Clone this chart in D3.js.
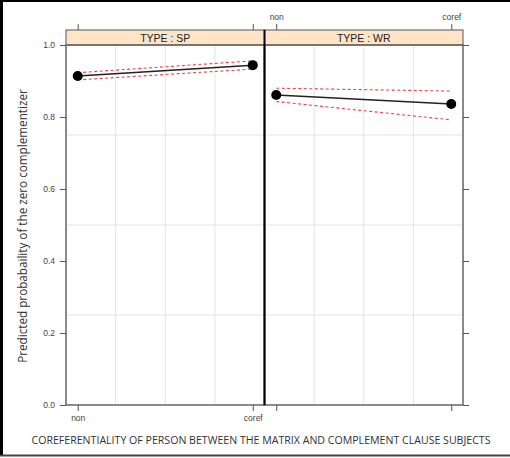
<!DOCTYPE html>
<html>
<head>
<meta charset="utf-8">
<script src="https://cdn.jsdelivr.net/npm/d3@7"></script>
<style>
  html, body { margin: 0; padding: 0; background: #fff; }
  svg { display: block; }
</style>
</head>
<body>
<svg id="chart" width="510" height="458"></svg>
<script>
// Effect plot: predicted probability of the zero complementizer
const panels = ["SP", "WR"];
const categories = ["non", "coref"];
const fitSP = [0.914, 0.944];
const lowerSP = [0.903, 0.933];
const upperSP = [0.923, 0.956];
const fitWR = [0.861, 0.836];
const lowerWR = [0.843, 0.792];
const upperWR = [0.880, 0.872];
const yTicks = [0.0, 0.2, 0.4, 0.6, 0.8, 1.0];
const yGrid = [0.25, 0.5, 0.75];

const series = {
  SP: { fit: fitSP, lower: lowerSP, upper: upperSP },
  WR: { fit: fitWR, lower: lowerWR, upper: upperWR }
};

const svg = d3.select("#chart");
const W = 510, H = 458;

// outer frame
svg.append("line").attr("x1", 1.5).attr("x2", 1.5).attr("y1", 0).attr("y2", 456)
  .attr("stroke", "#000").attr("stroke-width", 3);
svg.append("line").attr("x1", 0).attr("x2", W).attr("y1", 1).attr("y2", 1)
  .attr("stroke", "#000").attr("stroke-width", 2);
svg.append("line").attr("x1", 0).attr("x2", W).attr("y1", 455.5).attr("y2", 455.5)
  .attr("stroke", "#444").attr("stroke-width", 2);

const panelX0 = 66, panelW = 198.5, plotTop = 45, plotBottom = 405;
const stripTop = 30;

const y = d3.scaleLinear().domain([0, 1]).range([plotBottom, plotTop]);

const tickFont = "Liberation Sans, Arial, sans-serif";
const tickSize = 8.5;

panels.forEach((p, i) => {
  const x0 = panelX0 + i * panelW;
  const x = d3.scalePoint().domain(categories).range([x0, x0 + panelW]).padding(0.067);
  const g = svg.append("g");

  // grid
  const xq = d3.scaleLinear().domain([0, 4]).range([x0, x0 + panelW]);
  [1, 2, 3].forEach(k => {
    g.append("line").attr("x1", xq(k)).attr("x2", xq(k)).attr("y1", plotTop).attr("y2", plotBottom)
      .attr("stroke", "#e3e3e3").attr("stroke-width", 1);
  });
  yGrid.forEach(v => {
    g.append("line").attr("x1", x0).attr("x2", x0 + panelW).attr("y1", y(v)).attr("y2", y(v))
      .attr("stroke", "#e3e3e3").attr("stroke-width", 1);
  });

  // strip
  g.append("rect").attr("x", x0).attr("y", stripTop).attr("width", panelW).attr("height", plotTop - stripTop)
    .attr("fill", "#ffe4c8").attr("stroke", "#555").attr("stroke-width", 1);
  g.append("text").attr("x", x0 + panelW / 2).attr("y", plotTop - 3.5)
    .attr("text-anchor", "middle").attr("font-family", tickFont).attr("font-size", 10.5)
    .attr("fill", "#222").text("TYPE : " + p);

  // data
  const s = series[p];
  const line = d3.line().x((d, j) => x(categories[j])).y(d => y(d));
  ["lower", "upper"].forEach(k => {
    g.append("path").datum(s[k]).attr("d", line).attr("fill", "none")
      .attr("stroke", "#e8434a").attr("stroke-width", 1.1).attr("stroke-dasharray", "3,2.5");
  });
  g.append("path").datum(s.fit).attr("d", line).attr("fill", "none")
    .attr("stroke", "#222").attr("stroke-width", 1.5);
  g.selectAll("circle").data(s.fit).join("circle")
    .attr("cx", (d, j) => x(categories[j])).attr("cy", d => y(d)).attr("r", 5)
    .attr("fill", "#000");

  // panel border
  g.append("rect").attr("x", x0).attr("y", plotTop).attr("width", panelW).attr("height", plotBottom - plotTop)
    .attr("fill", "none").attr("stroke", "#666").attr("stroke-width", 1.5);

  // x ticks: bottom on left panel, top on right panel (alternating)
  const axB = d3.axisBottom(x).tickSize(6).tickPadding(4);
  const axT = d3.axisTop(x).tickSize(6).tickPadding(4);
  const gb = svg.append("g").attr("transform", `translate(0,${plotBottom})`).call(axB);
  const gt = svg.append("g").attr("transform", `translate(0,${stripTop})`).call(axT);
  [gb, gt].forEach(a => {
    a.select(".domain").remove();
    a.selectAll(".tick line").attr("stroke", "#555");
    a.selectAll("text").attr("font-family", tickFont).attr("font-size", tickSize).attr("fill", "#444");
  });
  if (i === 0) gt.selectAll("text").remove();
  else gb.selectAll("text").remove();
});

// divider between panels
svg.append("line").attr("x1", panelX0 + panelW).attr("x2", panelX0 + panelW)
  .attr("y1", stripTop).attr("y2", plotBottom).attr("stroke", "#000").attr("stroke-width", 2);

// y axes
const ayL = d3.axisLeft(y).tickValues(yTicks).tickFormat(d3.format(".1f")).tickSize(6).tickPadding(5);
const gl = svg.append("g").attr("transform", `translate(${panelX0},0)`).call(ayL);
const ayR = d3.axisRight(y).tickValues(yTicks).tickSize(6).tickFormat("");
const gr = svg.append("g").attr("transform", `translate(${panelX0 + 2 * panelW},0)`).call(ayR);
[gl, gr].forEach(a => {
  a.select(".domain").remove();
  a.selectAll(".tick line").attr("stroke", "#555");
  a.selectAll("text").attr("font-family", tickFont).attr("font-size", tickSize).attr("fill", "#444");
});

// axis titles
const titleFont = "'Open Sans', 'Noto Sans', sans-serif";
svg.append("text")
  .attr("transform", `translate(27,${(plotTop + plotBottom) / 2 + 1}) rotate(-90)`)
  .attr("text-anchor", "middle").attr("font-family", titleFont).attr("font-size", 11.7)
  .attr("fill", "#333").text("Predicted probabaility of the zero complementizer");
svg.append("text")
  .attr("x", 261).attr("y", 444)
  .attr("text-anchor", "middle").attr("font-family", titleFont).attr("font-size", 10.6)
  .attr("fill", "#333")
  .text("COREFERENTIALITY OF PERSON BETWEEN THE MATRIX AND COMPLEMENT CLAUSE SUBJECTS");
</script>
</body>
</html>
